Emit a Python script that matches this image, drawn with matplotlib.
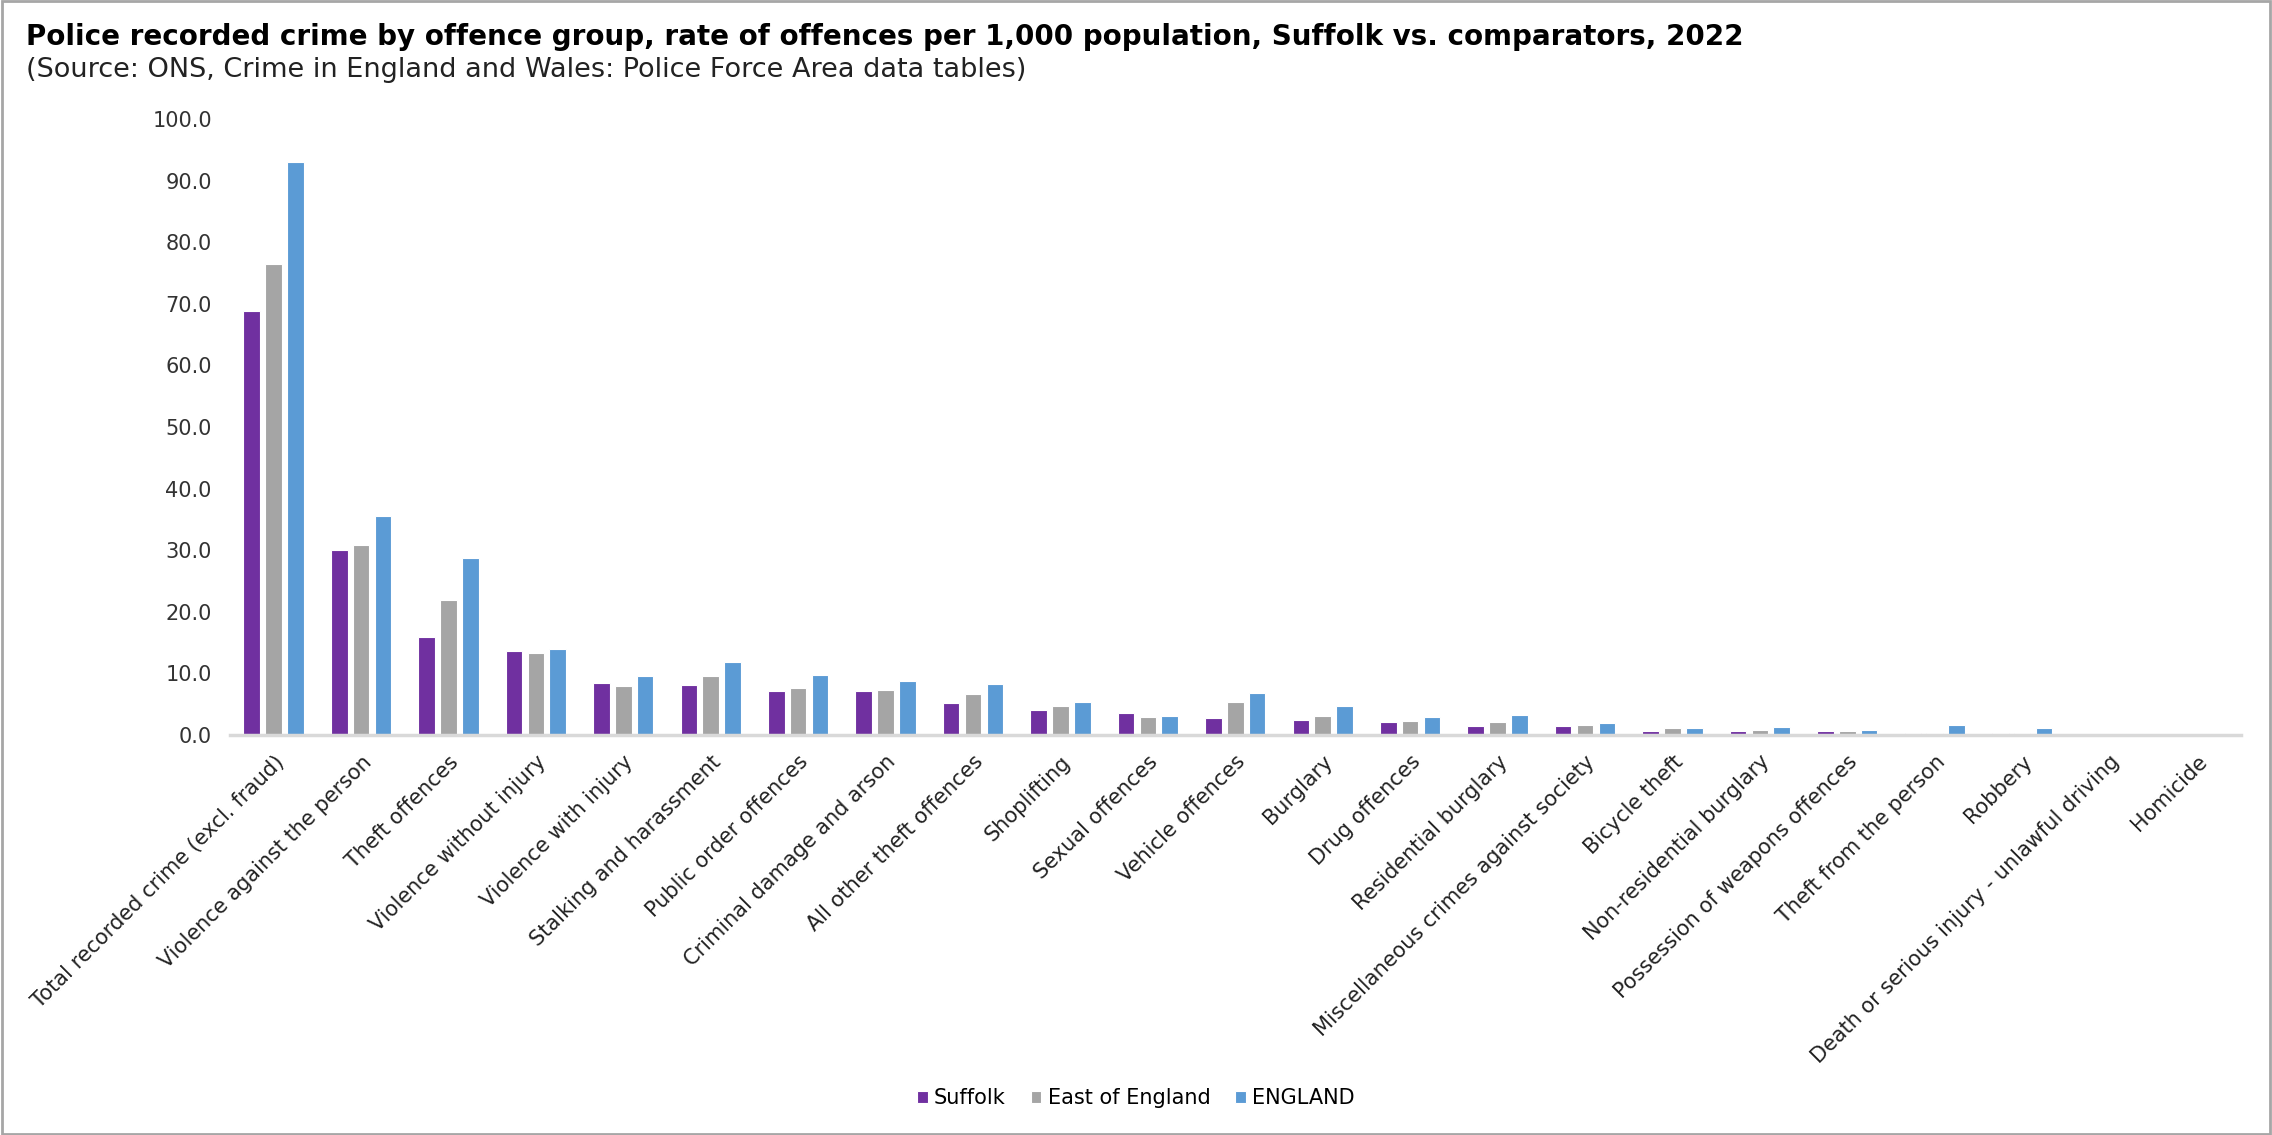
import matplotlib
matplotlib.use("Agg")
import matplotlib.pyplot as plt
import matplotlib.patches as mpatches
import numpy as np

# Police recorded crime rates per 1,000 population, 2022
categories = [
    "Total recorded crime (excl. fraud)",
    "Violence against the person",
    "Theft offences",
    "Violence without injury",
    "Violence with injury",
    "Stalking and harassment",
    "Public order offences",
    "Criminal damage and arson",
    "All other theft offences",
    "Shoplifting",
    "Sexual offences",
    "Vehicle offences",
    "Burglary",
    "Drug offences",
    "Residential burglary",
    "Miscellaneous crimes against society",
    "Bicycle theft",
    "Non-residential burglary",
    "Possession of weapons offences",
    "Theft from the person",
    "Robbery",
    "Death or serious injury - unlawful driving",
    "Homicide",
]
suffolk = [68.8, 30.0, 15.9, 13.6, 8.4, 8.1, 7.2, 7.2, 5.2, 4.1, 3.5, 2.7, 2.5,
           2.1, 1.5, 1.5, 0.7, 0.7, 0.7, 0.4, 0.3, 0.02, 0.01]
east_of_england = [76.4, 30.8, 21.9, 13.3, 8.0, 9.6, 7.6, 7.3, 6.6, 4.7, 2.9, 5.3, 3.1,
                   2.3, 2.1, 1.7, 1.1, 0.8, 0.7, 0.4, 0.4, 0.03, 0.01]
england = [93.0, 35.6, 28.7, 13.9, 9.6, 11.9, 9.8, 8.8, 8.3, 5.3, 3.1, 6.9, 4.7,
           2.9, 3.3, 1.9, 1.1, 1.3, 0.8, 1.7, 1.1, 0.03, 0.01]
series_names = ["Suffolk", "East of England", "ENGLAND"]
yticks = [0, 10, 20, 30, 40, 50, 60, 70, 80, 90, 100]

PURPLE = "#7030A0"
GREY = "#A5A5A5"
BLUE = "#5B9BD5"

plt.rcParams["font.family"] = ["DejaVu Sans"]

fig = plt.figure(figsize=(22.72, 11.35), dpi=100)
ax = fig.add_axes([0.1012, 0.3524, 0.885, 0.5428])

x = np.arange(len(categories))
w = 0.19
step = 0.25
for vals, col, name, off in zip([suffolk, east_of_england, england],
                                [PURPLE, GREY, BLUE], series_names, [-step, 0, step]):
    ax.bar(x + off, vals, width=w, color=col, edgecolor="white", linewidth=0.8, label=name)

ax.set_xlim(-0.5, len(categories) - 0.5)
ax.set_ylim(0, 100)
ax.set_yticks(yticks)
ax.set_yticklabels([f"{v:.1f}" for v in yticks], fontsize=15, color="#333333")
ax.set_xticks(x)
ax.set_xticklabels(categories, rotation=45, ha="right", va="top",
                   rotation_mode="anchor", fontsize=15, color="#222222")
ax.tick_params(axis="both", length=0)
ax.tick_params(axis="y", pad=13)
ax.tick_params(axis="x", pad=12)

for s in ["top", "right", "left"]:
    ax.spines[s].set_visible(False)
ax.spines["bottom"].set_color("#D9D9D9")
ax.spines["bottom"].set_linewidth(2.5)

fig.text(0.0115, 0.967, "Police recorded crime by offence group, rate of offences per 1,000 population, Suffolk vs. comparators, 2022",
         fontsize=20, fontweight="bold", va="center", ha="left")
fig.text(0.0115, 0.938, "(Source: ONS, Crime in England and Wales: Police Force Area data tables)",
         fontsize=19.5, va="center", ha="left", color="#222222")

fig.legend(loc="center", bbox_to_anchor=(0.5, 0.0325), ncol=3, frameon=False,
           fontsize=15, handlelength=0.5, handleheight=0.5, handletextpad=0.3,
           columnspacing=1.2)

fig.patches.append(mpatches.Rectangle((0.001, 0.001), 0.998, 0.998, transform=fig.transFigure,
                                      fill=False, edgecolor="#A6A6A6", linewidth=2))

fig.savefig("out.png", dpi=100)
